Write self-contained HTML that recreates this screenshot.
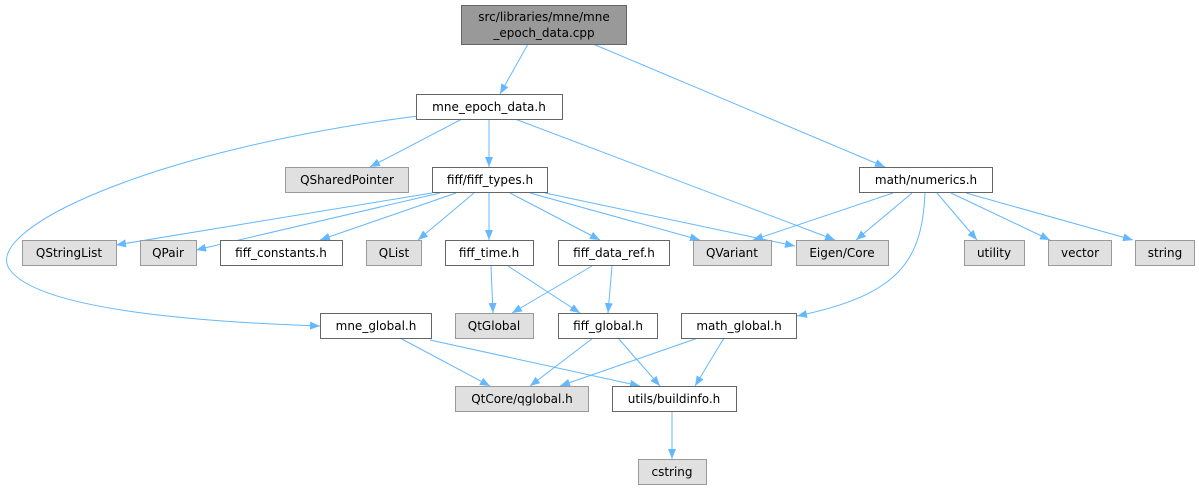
<!DOCTYPE html>
<html><head><meta charset="utf-8"><style>
html,body{margin:0;padding:0;background:#fff}
svg text{font-family:"DejaVu Sans","Liberation Sans",sans-serif;font-size:12px;text-anchor:middle;fill:#000}
</style></head><body>
<svg width="1199" height="491" viewBox="0 0 1199 491" xmlns="http://www.w3.org/2000/svg">
<defs><marker id="a" markerWidth="10" markerHeight="8" refX="10" refY="4" orient="auto" markerUnits="userSpaceOnUse"><path d="M0,0 L10,4 L0,8 Z" fill="#63b8ff"/></marker></defs>
<g stroke="#63b8ff" stroke-width="1" fill="none" marker-end="url(#a)">
<path d="M528,44 L500,94"/>
<path d="M593,44 L885,167"/>
<path d="M462,119 L370,167"/>
<path d="M489,119 L489,167"/>
<path d="M515,119 L835,240"/>
<path d="M418,116 C150,150 -20,230 10,270 C40,310 200,322 320,326"/>
<path d="M432,193 L116,245"/>
<path d="M440,193 L196,250"/>
<path d="M456,193 L320,240"/>
<path d="M474,193 L418,240"/>
<path d="M489,193 L489,240"/>
<path d="M510,193 L600,240"/>
<path d="M530,193 L700,240"/>
<path d="M545,193 L795,246"/>
<path d="M491,266 L493,313"/>
<path d="M508,266 L580,313"/>
<path d="M592,266 L512,313"/>
<path d="M612,266 L608,313"/>
<path d="M893,193 L753,240"/>
<path d="M912,193 L856,240"/>
<path d="M937,193 L977,240"/>
<path d="M951,193 L1050,240"/>
<path d="M966,193 L1133,240"/>
<path d="M925,193 C922,260 900,295 797,316"/>
<path d="M400,338 L490,386"/>
<path d="M430,340 L640,386"/>
<path d="M593,338 L530,386"/>
<path d="M618,338 L660,386"/>
<path d="M698,338 L560,386"/>
<path d="M724,338 L695,386"/>
<path d="M672,411 L672,459"/>
</g>
<g stroke-width="1">
<rect x="461.5" y="5.5" width="165" height="39" fill="#999" stroke="#666"/>
<rect x="416.5" y="94.5" width="146" height="25" fill="#fff" stroke="#666"/>
<rect x="285.5" y="167.5" width="123" height="25" fill="#e0e0e0" stroke="#999"/>
<rect x="432.5" y="167.5" width="115" height="25" fill="#fff" stroke="#666"/>
<rect x="859.5" y="167.5" width="133" height="25" fill="#fff" stroke="#666"/>
<rect x="22.5" y="240.5" width="94" height="25" fill="#e0e0e0" stroke="#999"/>
<rect x="140.5" y="240.5" width="56" height="25" fill="#e0e0e0" stroke="#999"/>
<rect x="220.5" y="240.5" width="122" height="25" fill="#fff" stroke="#666"/>
<rect x="366.5" y="240.5" width="55" height="25" fill="#e0e0e0" stroke="#999"/>
<rect x="445.5" y="240.5" width="88" height="25" fill="#fff" stroke="#666"/>
<rect x="558.5" y="240.5" width="111" height="25" fill="#fff" stroke="#666"/>
<rect x="693.5" y="240.5" width="78" height="25" fill="#e0e0e0" stroke="#999"/>
<rect x="796.5" y="240.5" width="92" height="25" fill="#e0e0e0" stroke="#999"/>
<rect x="964.5" y="240.5" width="60" height="25" fill="#e0e0e0" stroke="#999"/>
<rect x="1048.5" y="240.5" width="63" height="25" fill="#e0e0e0" stroke="#999"/>
<rect x="1135.5" y="240.5" width="59" height="25" fill="#e0e0e0" stroke="#999"/>
<rect x="320.5" y="313.5" width="111" height="25" fill="#fff" stroke="#666"/>
<rect x="455.5" y="313.5" width="78" height="25" fill="#e0e0e0" stroke="#999"/>
<rect x="558.5" y="313.5" width="99" height="25" fill="#fff" stroke="#666"/>
<rect x="681.5" y="313.5" width="115" height="25" fill="#fff" stroke="#666"/>
<rect x="455.5" y="386.5" width="133" height="25" fill="#e0e0e0" stroke="#999"/>
<rect x="612.5" y="386.5" width="124" height="25" fill="#fff" stroke="#666"/>
<rect x="638.5" y="459.5" width="68" height="25" fill="#e0e0e0" stroke="#999"/>
</g>
<text x="544" y="21">src/libraries/mne/mne</text>
<text x="544" y="37">_epoch_data.cpp</text>
<text x="489" y="111">mne_epoch_data.h</text>
<text x="347" y="184">QSharedPointer</text>
<text x="490" y="184">fiff/fiff_types.h</text>
<text x="926" y="184">math/numerics.h</text>
<text x="69" y="257">QStringList</text>
<text x="168" y="257">QPair</text>
<text x="281" y="257">fiff_constants.h</text>
<text x="394" y="257">QList</text>
<text x="489" y="257">fiff_time.h</text>
<text x="614" y="257">fiff_data_ref.h</text>
<text x="732" y="257">QVariant</text>
<text x="842" y="257">Eigen/Core</text>
<text x="994" y="257">utility</text>
<text x="1080" y="257">vector</text>
<text x="1165" y="257">string</text>
<text x="376" y="330">mne_global.h</text>
<text x="494" y="330">QtGlobal</text>
<text x="608" y="330">fiff_global.h</text>
<text x="739" y="330">math_global.h</text>
<text x="522" y="403">QtCore/qglobal.h</text>
<text x="674" y="403">utils/buildinfo.h</text>
<text x="672" y="476">cstring</text>
</svg>
</body></html>
